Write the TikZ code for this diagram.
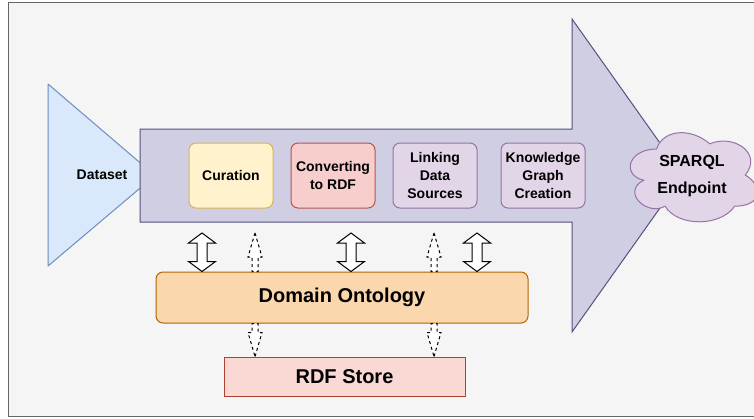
\documentclass[tikz,border=0pt]{standalone}
\usepackage{fontspec}
\setmainfont{Liberation Sans}
\usetikzlibrary{calc}

\definecolor{bgfill}{HTML}{F5F5F5}
\definecolor{bgline}{HTML}{666666}
\definecolor{dsfill}{HTML}{DAE8FC}
\definecolor{dsline}{HTML}{6C8EBF}
\definecolor{pipefill}{HTML}{D0CEE2}
\definecolor{pipeline}{HTML}{56517E}
\definecolor{yelfill}{HTML}{FFF2CC}
\definecolor{yelline}{HTML}{D6B656}
\definecolor{redfill}{HTML}{F8CECC}
\definecolor{redline}{HTML}{B85450}
\definecolor{purfill}{HTML}{E1D5E7}
\definecolor{purline}{HTML}{9673A6}
\definecolor{orfill}{HTML}{FAD7AC}
\definecolor{orline}{HTML}{B46504}
\definecolor{stfill}{HTML}{FAD9D5}
\definecolor{stline}{HTML}{AE4132}

% two-headed block arrow from #1 (top) to #2 (bottom)
\newcommand\dblarrow[2]{%
  \path ($(#1)!10pt!(#2)$) coordinate (ha) ($(#2)!10pt!(#1)$) coordinate (hb);
  \draw[blockarrow] (#1) -- ($(ha)!13.5pt!90:(#1)$) -- ($(ha)!5pt!90:(#1)$)
    -- ($(hb)!5pt!-90:(#2)$) -- ($(hb)!13.5pt!-90:(#2)$) -- (#2)
    -- ($(hb)!13.5pt!90:(#2)$) -- ($(hb)!5pt!90:(#2)$)
    -- ($(ha)!5pt!-90:(#1)$) -- ($(ha)!13.5pt!-90:(#1)$) -- cycle;}

% dashed single-headed block arrow from #1 (base) to #2 (tip)
\newcommand\flexarrow[2]{%
  \path ($(#2)!24pt!(#1)$) coordinate (hh);
  \draw[dasharrow] (#2) -- ($(hh)!7pt!90:(#2)$) -- ($(hh)!3pt!90:(#2)$)
    -- ($(#1)!3pt!90:(#2)$) -- ($(#1)!3pt!-90:(#2)$)
    -- ($(hh)!3pt!-90:(#2)$) -- ($(hh)!7pt!-90:(#2)$) -- cycle;}

\begin{document}
\begin{tikzpicture}[x=1pt,y=-1pt,line width=1pt,
  txt/.style={font=\bfseries\fontsize{14}{18}\selectfont,align=center},
  stage/.style={txt,draw,rounded corners=7pt,minimum width=84pt,minimum height=65pt,inner sep=0pt},
  bigtxt/.style={font=\bfseries\fontsize{20}{24}\selectfont},
  blockarrow/.style={draw=black,fill=white,line width=1pt,line join=miter},
  dasharrow/.style={draw=black,fill=white,line width=1pt,dash pattern=on 3pt off 3pt}]

\clip (0,0) rectangle (754,418);

% frame
\draw[draw=bgline,fill=bgfill] (8,2) rectangle (780,416);

% dataset funnel
\draw[draw=dsline,fill=dsfill,line join=round] (48,84) -- (155,175.5) -- (48,266) -- cycle;
\node[txt] (ds) at (102,175) {Dataset};

% pipeline arrow
\draw[draw=pipeline,fill=pipefill,line join=miter]
  (140,129) -- (572,129) -- (572,19) -- (683,175.5) -- (572,332) -- (572,222) -- (140,222) -- cycle;

% stages
\node[stage,draw=yelline,fill=yelfill] (cur) at (231,175.5) {Curation};
\node[stage,draw=redline,fill=redfill] (conv) at (333,175.5) {Converting\\to RDF};
\node[stage,draw=purline,fill=purfill] (link) at (435,175.5) {Linking\\Data\\Sources};
\node[stage,draw=purline,fill=purfill] (kg) at (543,175.5) {Knowledge\\Graph\\Creation};

% endpoint cloud, drawn in a unit box
\begin{scope}[shift={(621,123)},x=142pt,y=-104pt]
\draw[draw=purline,fill=purfill]
  (0.25,0.25) .. controls (0.05,0.25) and (0,0.5) .. (0.16,0.55)
  .. controls (0,0.66) and (0.18,0.9) .. (0.31,0.8)
  .. controls (0.4,1) and (0.7,1) .. (0.8,0.8)
  .. controls (1,0.8) and (1,0.6) .. (0.875,0.5)
  .. controls (1,0.3) and (0.8,0.1) .. (0.625,0.2)
  .. controls (0.5,0.05) and (0.3,0.05) .. (0.25,0.25) -- cycle;
\end{scope}
\node[font=\bfseries\fontsize{16}{27}\selectfont,align=center] (sparql) at (692,176)
  {SPARQL\\Endpoint};

% ontology and store
\node[bigtxt,draw=orline,fill=orfill,rounded corners=7pt,minimum width=372pt,minimum height=51pt] (onto) at (342,297.5) {Domain Ontology};
\node[bigtxt,draw=stline,fill=stfill,minimum width=241pt,minimum height=39pt] (store) at (344.5,376.5) {RDF Store};

% exchanges between stages and ontology
\coordinate (d1) at (202,233);
\coordinate (d2) at (351,233);
\coordinate (d3) at (477,233);
\dblarrow{d1}{d1 |- onto.north}
\dblarrow{d2}{d2 |- onto.north}
\dblarrow{d3}{d3 |- onto.north}

\coordinate (u1) at (255,233);
\coordinate (u2) at (434,233);
\flexarrow{u1 |- onto.north}{u1}
\flexarrow{u2 |- onto.north}{u2}

\coordinate (s1) at (255,355);
\coordinate (s2) at (434,355);
\flexarrow{s1 |- onto.south}{s1 |- store.north}
\flexarrow{s2 |- onto.south}{s2 |- store.north}
\end{tikzpicture}
\end{document}
